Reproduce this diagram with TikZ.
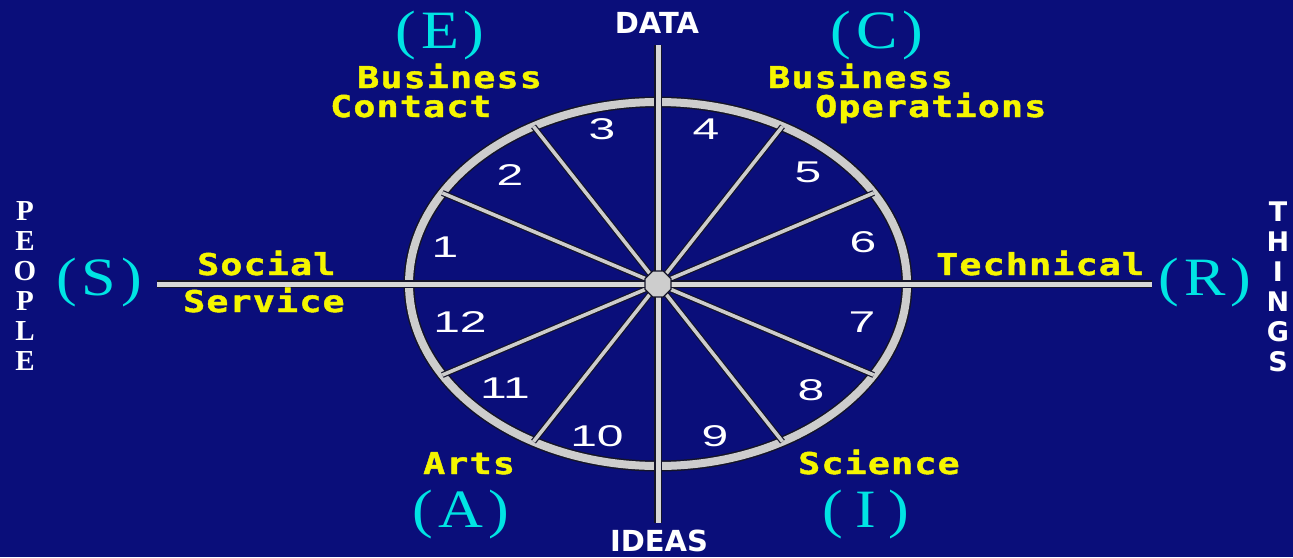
\documentclass[tikz,border=0pt]{standalone}
\usepackage{fontspec}
\usetikzlibrary{shapes.geometric}
\newfontfamily\lblfont[FakeStretch=1.22,LetterSpace=4,FakeBold=1.5]{DejaVu Sans Mono}
\newfontfamily\numfont[FakeStretch=1.6]{Liberation Sans}
\newfontfamily\typfont[FakeStretch=1.15]{Liberation Serif}
\newfontfamily\sidefont{Liberation Serif}
\newfontfamily\axfont{DejaVu Sans}
\definecolor{bg}{RGB}{10,14,122}
\definecolor{ring}{RGB}{205,205,205}
\definecolor{edge}{RGB}{20,20,40}
\definecolor{lyellow}{RGB}{245,245,0}
\definecolor{lcyan}{RGB}{0,228,228}
\tikzset{
  lbl/.style={text=lyellow, inner sep=0, anchor=base west, font=\lblfont\bfseries\fontsize{30}{30}\selectfont},
  typ/.style={text=lcyan, inner sep=0, font=\typfont\fontsize{54}{54}\selectfont},
  num/.style={text=white, inner sep=0, font=\numfont\fontsize{30}{30}\selectfont},
  axlbl/.style={text=white, inner sep=0, font=\axfont\bfseries\fontsize{29}{29}\selectfont},
  sidelbl/.style={text=white, inner sep=0, align=center, font=\sidefont\bfseries\fontsize{29}{30}\selectfont},
  spokeedge/.style={line width=6, draw=edge},
  spoke/.style={line width=3.6, draw=ring},
  axisedge/.style={line width=7.5, draw=edge},
  axisline/.style={line width=5, draw=ring!80!white},
}
\begin{document}
\begin{tikzpicture}[x=1pt,y=-1pt]
\fill[bg] (0,0) rectangle (1293,557);
\useasboundingbox (0,0) rectangle (1293,557);
% ring
\coordinate (O) at (658,284);
\draw[line width=11, draw=edge] (O) ellipse [x radius=249, y radius=182];
\draw[line width=8, draw=ring] (O) ellipse [x radius=249, y radius=182];
% spoke ends
\foreach \a in {30,60,120,150,210,240,300,330}{
  \coordinate (s\a) at ({658+249*cos(\a)},{284-182*sin(\a)});
}
\foreach \a in {30,60,120,150,210,240,300,330}{
  \draw[spokeedge] (O) -- (s\a);
}
\foreach \a in {30,60,120,150,210,240,300,330}{
  \draw[spoke] (O) -- (s\a);
}
% axes
\coordinate (top) at (658,45);
\coordinate (bottom) at (658,523);
\coordinate (left) at (157,284);
\coordinate (right) at (1152,284);
\draw[axisedge] (top) -- (bottom);
\draw[axisedge] (left) -- (right);
\draw[axisline] (top) -- (bottom);
\draw[axisline] (left) -- (right);
% hub
\node[regular polygon, regular polygon sides=8, minimum size=28, inner sep=0, fill=ring, draw=edge, line width=1.2] (hub) at (O) {};
% numbers
\node[num] (n1) at (445,247) {1};
\node[num] (n2) at (510,175) {2};
\node[num] (n3) at (602,129) {3};
\node[num] (n4) at (706,129) {4};
\node[num] (n5) at (808,172) {5};
\node[num] (n6) at (863,242) {6};
\node[num] (n7) at (862,322) {7};
\node[num] (n8) at (811,390) {8};
\node[num] (n9) at (715,436) {9};
\node[num] (n10) at (597,436) {10};
\node[num] (n11) at (505,388) {11};
\node[num] (n12) at (460,322) {12};
% yellow labels
\node[lbl] (bc1) at (357,88) {Business};
\node[lbl] (bc2) at (330,117) {Contact};
\node[lbl] (bo1) at (768,88) {Business};
\node[lbl] (bo2) at (815,117) {Operations};
\node[lbl] (ss1) at (197,275) {Social};
\node[lbl] (ss2) at (183,312) {Service};
\node[lbl] (tech) at (936,275) {Technical};
\node[lbl] (arts) at (423,474) {Arts};
\node[lbl] (sci) at (798,474) {Science};
% cyan type letters
\node[typ] (E) at (440,36) {(\kern5pt E\kern5pt)};
\node[typ] (Cc) at (877,36) {(\kern5pt C\kern5pt)};
\node[typ] (S) at (99,283) {(\kern5pt S\kern5pt)};
\node[typ] (R) at (1205,283) {(\kern5pt R\kern5pt)};
\node[typ] (A) at (461,515) {(\kern5pt A\kern5pt)};
\node[typ] (I) at (866,515) {(\kern12pt I\kern12pt)};
% axis labels
\node[axlbl] (data) at (657,23) {DATA};
\node[axlbl] (ideas) at (659,541) {IDEAS};
\node[sidelbl] (people) at (25,286) {P\\E\\O\\P\\L\\E};
\node[sidelbl, font=\axfont\bfseries\fontsize{27}{30}\selectfont] (things) at (1278,287) {T\\H\\I\\N\\G\\S};
\end{tikzpicture}
\end{document}
